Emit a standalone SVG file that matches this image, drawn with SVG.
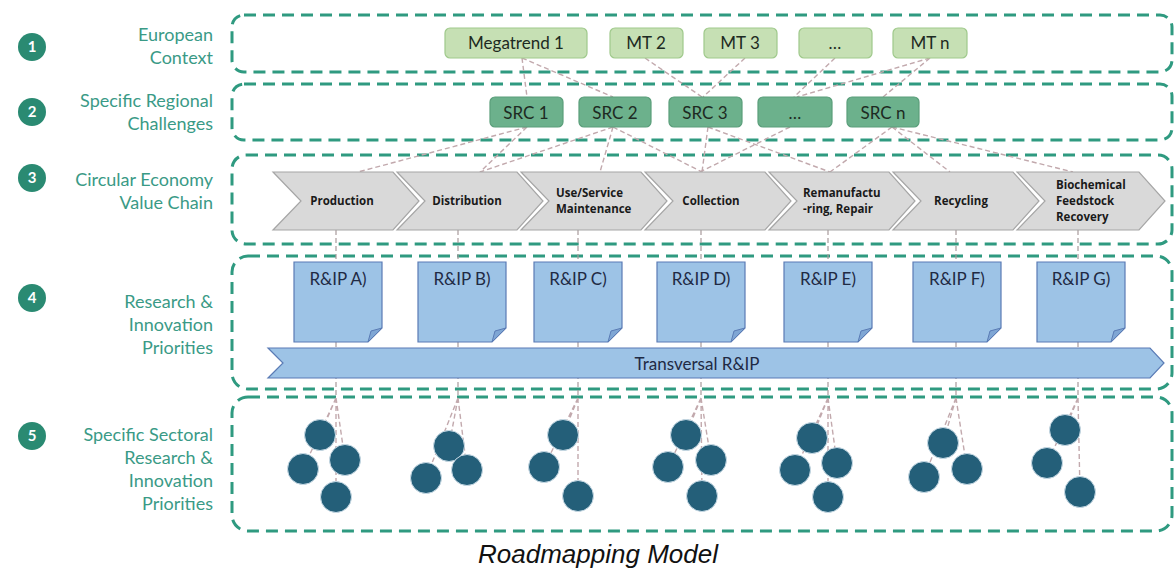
<svg xmlns="http://www.w3.org/2000/svg" width="1176" height="568" viewBox="0 0 1176 568">
<defs>
<style>
.band{fill:none;stroke:#2f9a80;stroke-width:3;stroke-dasharray:12 7}
.num{fill:#2a8a72}
.numt{fill:#fff;font-family:Lato,"Noto Sans",sans-serif;font-size:15px;font-weight:bold;text-anchor:middle}
.lbl{fill:#3a9a86;font-family:Lato,"Noto Sans",sans-serif;font-size:18px;text-anchor:end}
.mt{fill:#c6e0b4;stroke:#9fc98b;stroke-width:1.2}
.src{fill:#6cb18c;stroke:#5a9e7a;stroke-width:1.2}
.bt{fill:#1d2a22;font-family:Lato,"Noto Sans",sans-serif;font-size:17px;text-anchor:middle}
.chev{fill:#d9d9d9;stroke:#a6a6a6;stroke-width:1.2}
.ct{fill:#1a1a1a;font-family:"Open Sans","Noto Sans",sans-serif;font-size:11.5px;font-weight:bold}
.rip{fill:#9dc3e6;stroke:#5a7bb5;stroke-width:1.2}
.fold{fill:#7fa6d4;stroke:#5a7bb5;stroke-width:1}
.rt{fill:#1f2a44;font-family:Lato,"Noto Sans",sans-serif;font-size:17px;text-anchor:middle}
.dot{fill:#245f79;stroke:#c9dbe6;stroke-width:1}
.cn{fill:none;stroke:#c2a9ad;stroke-width:1.4;stroke-dasharray:5 3}
.vl{fill:none;stroke:#a89a9c;stroke-width:1.2;stroke-dasharray:5 3}
</style>
</defs>
<rect width="1176" height="568" fill="#fff"/>

<g id="bands">
<rect class="band" x="232" y="15" width="940" height="57" rx="12"/>
<rect class="band" x="232" y="84" width="940" height="56" rx="12"/>
<rect class="band" x="232" y="155" width="940" height="89" rx="14"/>
<rect class="band" x="232" y="256" width="940" height="133" rx="16"/>
<rect class="band" x="232" y="397" width="940" height="134" rx="16"/>
</g>

<g id="row-labels">
<circle class="num" cx="32" cy="47" r="14"/><text class="numt" x="32" y="52">1</text>
<circle class="num" cx="32" cy="112" r="14"/><text class="numt" x="32" y="117">2</text>
<circle class="num" cx="32" cy="178" r="14"/><text class="numt" x="32" y="183">3</text>
<circle class="num" cx="32" cy="298" r="14"/><text class="numt" x="32" y="303">4</text>
<circle class="num" cx="32" cy="436" r="14"/><text class="numt" x="32" y="441">5</text>
<text class="lbl" x="213" y="41">European</text>
<text class="lbl" x="213" y="64">Context</text>
<text class="lbl" x="213" y="107">Specific Regional</text>
<text class="lbl" x="213" y="130">Challenges</text>
<text class="lbl" x="213" y="186">Circular Economy</text>
<text class="lbl" x="213" y="209">Value Chain</text>
<text class="lbl" x="213" y="308">Research &amp;</text>
<text class="lbl" x="213" y="331">Innovation</text>
<text class="lbl" x="213" y="354">Priorities</text>
<text class="lbl" x="213" y="441">Specific Sectoral</text>
<text class="lbl" x="213" y="464">Research &amp;</text>
<text class="lbl" x="213" y="487">Innovation</text>
<text class="lbl" x="213" y="510">Priorities</text>
</g>

<g id="connectors">
<line class="cn" x1="522" y1="58" x2="527" y2="97"/>
<line class="cn" x1="522" y1="58" x2="613" y2="97"/>
<line class="cn" x1="645" y1="58" x2="702" y2="97"/>
<line class="cn" x1="745" y1="58" x2="703" y2="97"/>
<line class="cn" x1="835" y1="58" x2="794" y2="97"/>
<line class="cn" x1="930" y1="58" x2="797" y2="97"/>
<line class="cn" x1="930" y1="58" x2="883" y2="97"/>
<line class="cn" x1="527" y1="127" x2="358" y2="172"/>
<line class="cn" x1="527" y1="127" x2="480" y2="172"/>
<line class="cn" x1="613" y1="127" x2="480" y2="172"/>
<line class="cn" x1="613" y1="127" x2="600" y2="172"/>
<line class="cn" x1="613" y1="127" x2="702" y2="172"/>
<line class="cn" x1="708" y1="127" x2="702" y2="172"/>
<line class="cn" x1="708" y1="127" x2="830" y2="172"/>
<line class="cn" x1="790" y1="127" x2="700" y2="172"/>
<line class="cn" x1="892" y1="127" x2="830" y2="172"/>
<line class="cn" x1="892" y1="127" x2="950" y2="172"/>
<line class="cn" x1="892" y1="127" x2="1073" y2="172"/>
<line class="vl" x1="336" y1="230" x2="336" y2="398"/>
<line class="vl" x1="458" y1="230" x2="458" y2="398"/>
<line class="vl" x1="578" y1="230" x2="578" y2="398"/>
<line class="vl" x1="701" y1="230" x2="701" y2="398"/>
<line class="vl" x1="828" y1="230" x2="828" y2="398"/>
<line class="vl" x1="956" y1="230" x2="956" y2="398"/>
<line class="vl" x1="1078" y1="230" x2="1078" y2="398"/>
<path class="cn" d="M336 398L320 435M336 398L303 469M336 398L345 460M336 398L336 497"/>
<path class="cn" d="M458 398L449 446M458 398L426 478M458 398L467 470"/>
<path class="cn" d="M578 398L563 435M578 398L544 467M578 398L578 496"/>
<path class="cn" d="M701 398L686 435M701 398L668 467M701 398L711 460M701 398L702 496"/>
<path class="cn" d="M828 398L812 438M828 398L795 470M828 398L837 463M828 398L828 497"/>
<path class="cn" d="M956 398L943 443M956 398L924 477M956 398L967 469"/>
<path class="cn" d="M1078 398L1065 430M1078 398L1047 463M1078 398L1080 492"/>
</g>

<g id="megatrends">
<g id="mt1"><rect class="mt" x="445" y="28" width="142" height="30" rx="5"/><text class="bt" x="516" y="49">Megatrend 1</text></g>
<g id="mt2"><rect class="mt" x="610" y="28" width="73" height="30" rx="5"/><text class="bt" x="646" y="49">MT 2</text></g>
<g id="mt3"><rect class="mt" x="704" y="28" width="73" height="30" rx="5"/><text class="bt" x="740" y="49">MT 3</text></g>
<g id="mtdots"><rect class="mt" x="799" y="28" width="73" height="30" rx="5"/><text class="bt" x="835" y="49">…</text></g>
<g id="mtn"><rect class="mt" x="893" y="28" width="74" height="30" rx="5"/><text class="bt" x="930" y="49">MT n</text></g>
</g>

<g id="src">
<g id="src1"><rect class="src" x="490" y="97" width="73" height="30" rx="5"/><text class="bt" x="526" y="119">SRC 1</text></g>
<g id="src2"><rect class="src" x="579" y="97" width="72" height="30" rx="5"/><text class="bt" x="615" y="119">SRC 2</text></g>
<g id="src3"><rect class="src" x="669" y="97" width="73" height="30" rx="5"/><text class="bt" x="705" y="119">SRC 3</text></g>
<g id="srcdots"><rect class="src" x="758" y="97" width="74" height="30" rx="5"/><text class="bt" x="795" y="119">…</text></g>
<g id="srcn"><rect class="src" x="847" y="97" width="72" height="30" rx="5"/><text class="bt" x="883" y="119">SRC n</text></g>
</g>

<g id="value-chain">
<g id="vc-production"><path class="chev" d="M273 172H393L419 201L393 230H273L301 201Z"/><text class="ct" x="342" y="205" text-anchor="middle">Production</text></g>
<g id="vc-distribution"><path class="chev" d="M397 172H517L543 201L517 230H397L425 201Z"/><text class="ct" x="467" y="205" text-anchor="middle">Distribution</text></g>
<g id="vc-use"><path class="chev" d="M521 172H641L667 201L641 230H521L549 201Z"/><text class="ct" x="556" y="197">Use/Service</text><text class="ct" x="556" y="213">Maintenance</text></g>
<g id="vc-collection"><path class="chev" d="M645 172H765L791 201L765 230H645L673 201Z"/><text class="ct" x="711" y="205" text-anchor="middle">Collection</text></g>
<g id="vc-reman"><path class="chev" d="M769 172H889L915 201L889 230H769L797 201Z"/><text class="ct" x="803" y="197">Remanufactu</text><text class="ct" x="803" y="213">-ring, Repair</text></g>
<g id="vc-recycling"><path class="chev" d="M893 172H1013L1039 201L1013 230H893L921 201Z"/><text class="ct" x="961" y="205" text-anchor="middle">Recycling</text></g>
<g id="vc-biochem"><path class="chev" d="M1017 172H1139L1165 201L1139 230H1017L1045 201Z"/><text class="ct" x="1056" y="189">Biochemical</text><text class="ct" x="1056" y="205">Feedstock</text><text class="ct" x="1056" y="221">Recovery</text></g>
</g>

<g id="rip">
<g id="rip-a"><path class="rip" d="M294 262H382V328L368 342H294Z"/><path class="fold" d="M368 342L382 328L371 331Z"/><text class="rt" x="338" y="285">R&amp;IP A)</text></g>
<g id="rip-b"><path class="rip" d="M418 262H506V328L492 342H418Z"/><path class="fold" d="M492 342L506 328L495 331Z"/><text class="rt" x="462" y="285">R&amp;IP B)</text></g>
<g id="rip-c"><path class="rip" d="M534 262H622V328L608 342H534Z"/><path class="fold" d="M608 342L622 328L611 331Z"/><text class="rt" x="578" y="285">R&amp;IP C)</text></g>
<g id="rip-d"><path class="rip" d="M657 262H745V328L731 342H657Z"/><path class="fold" d="M731 342L745 328L734 331Z"/><text class="rt" x="701" y="285">R&amp;IP D)</text></g>
<g id="rip-e"><path class="rip" d="M784 262H872V328L858 342H784Z"/><path class="fold" d="M858 342L872 328L861 331Z"/><text class="rt" x="828" y="285">R&amp;IP E)</text></g>
<g id="rip-f"><path class="rip" d="M913 262H1001V328L987 342H913Z"/><path class="fold" d="M987 342L1001 328L990 331Z"/><text class="rt" x="957" y="285">R&amp;IP F)</text></g>
<g id="rip-g"><path class="rip" d="M1037 262H1125V328L1111 342H1037Z"/><path class="fold" d="M1111 342L1125 328L1114 331Z"/><text class="rt" x="1081" y="285">R&amp;IP G)</text></g>
<g id="transversal"><path class="rip" d="M268 348H1150L1164 363L1150 378H268L283 363Z"/><text class="rt" x="697" y="370" font-size="18">Transversal R&amp;IP</text></g>
</g>

<g id="sectoral">
<g id="sec-a"><circle class="dot" cx="320" cy="435" r="15.5"/><circle class="dot" cx="303" cy="469" r="15.5"/><circle class="dot" cx="345" cy="460" r="15.5"/><circle class="dot" cx="336" cy="497" r="15.5"/></g>
<g id="sec-b"><circle class="dot" cx="449" cy="446" r="15.5"/><circle class="dot" cx="426" cy="478" r="15.5"/><circle class="dot" cx="467" cy="470" r="15.5"/></g>
<g id="sec-c"><circle class="dot" cx="563" cy="435" r="15.5"/><circle class="dot" cx="544" cy="467" r="15.5"/><circle class="dot" cx="578" cy="496" r="15.5"/></g>
<g id="sec-d"><circle class="dot" cx="686" cy="435" r="15.5"/><circle class="dot" cx="668" cy="467" r="15.5"/><circle class="dot" cx="711" cy="460" r="15.5"/><circle class="dot" cx="702" cy="496" r="15.5"/></g>
<g id="sec-e"><circle class="dot" cx="812" cy="438" r="15.5"/><circle class="dot" cx="795" cy="470" r="15.5"/><circle class="dot" cx="837" cy="463" r="15.5"/><circle class="dot" cx="828" cy="497" r="15.5"/></g>
<g id="sec-f"><circle class="dot" cx="943" cy="443" r="15.5"/><circle class="dot" cx="924" cy="477" r="15.5"/><circle class="dot" cx="967" cy="469" r="15.5"/></g>
<g id="sec-g"><circle class="dot" cx="1065" cy="430" r="15.5"/><circle class="dot" cx="1047" cy="463" r="15.5"/><circle class="dot" cx="1080" cy="492" r="15.5"/></g>
</g>

<text x="598" y="563" font-family="'Liberation Sans',Arial,sans-serif" font-size="26" font-style="italic" fill="#111" text-anchor="middle">Roadmapping Model</text>
</svg>
